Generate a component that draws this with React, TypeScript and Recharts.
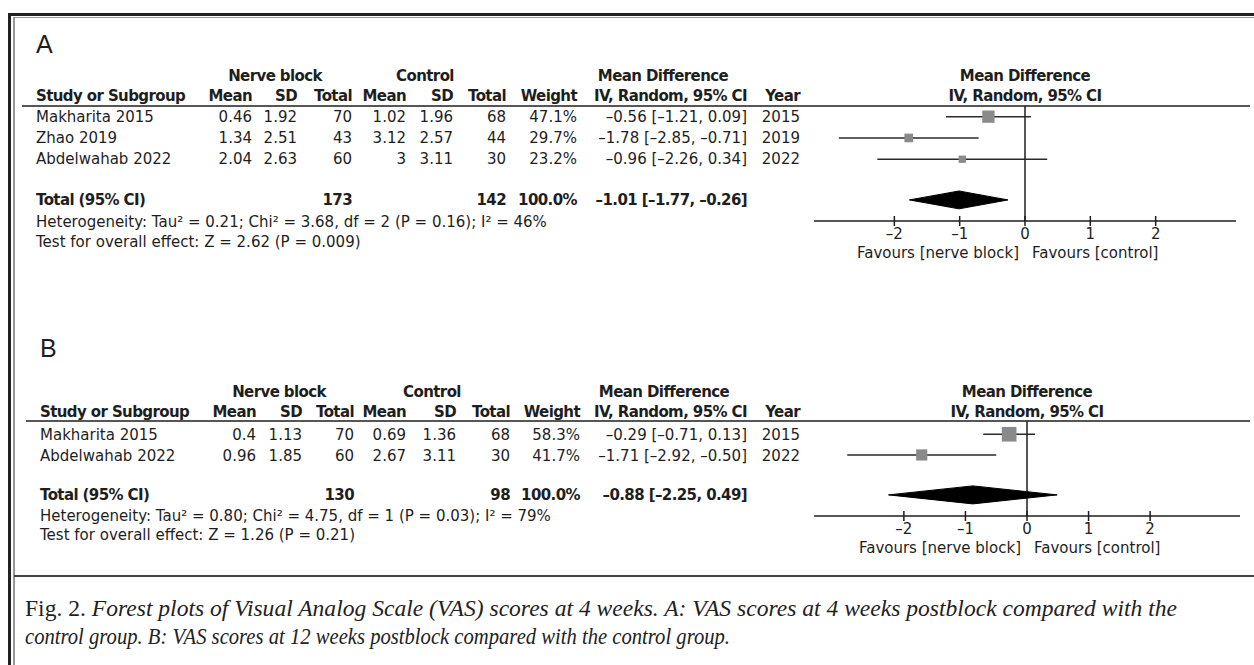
import React from "react";
import {
  ComposedChart,
  Scatter,
  XAxis,
  YAxis,
  ReferenceLine,
  ErrorBar,
} from "recharts";

// ---- Panel A: VAS at 4 weeks postblock ----
const studiesA = ["Makharita 2015", "Zhao 2019", "Abdelwahab 2022"];
const nbMeanA = [0.46, 1.34, 2.04];
const nbSdA = [1.92, 2.51, 2.63];
const nbTotalA = [70, 43, 60];
const ctMeanA = [1.02, 3.12, 3];
const ctSdA = [1.96, 2.57, 3.11];
const ctTotalA = [68, 44, 30];
const weightA = [47.1, 29.7, 23.2];
const mdA = [-0.56, -1.78, -0.96];
const loA = [-1.21, -2.85, -2.26];
const hiA = [0.09, -0.71, 0.34];
const yearA = [2015, 2019, 2022];
const totalsA = [173, 142];
const pooledA = [-1.01, -1.77, -0.26];
const hetA = "Heterogeneity: Tau² = 0.21; Chi² = 3.68, df = 2 (P = 0.16); I² = 46%";
const testA = "Test for overall effect: Z = 2.62 (P = 0.009)";

// ---- Panel B: VAS at 12 weeks postblock ----
const studiesB = ["Makharita 2015", "Abdelwahab 2022"];
const nbMeanB = [0.4, 0.96];
const nbSdB = [1.13, 1.85];
const nbTotalB = [70, 60];
const ctMeanB = [0.69, 2.67];
const ctSdB = [1.36, 3.11];
const ctTotalB = [68, 30];
const weightB = [58.3, 41.7];
const mdB = [-0.29, -1.71];
const loB = [-0.71, -2.92];
const hiB = [0.13, -0.5];
const yearB = [2015, 2022];
const totalsB = [130, 98];
const pooledB = [-0.88, -2.25, 0.49];
const hetB = "Heterogeneity: Tau² = 0.80; Chi² = 4.75, df = 1 (P = 0.03); I² = 79%";
const testB = "Test for overall effect: Z = 1.26 (P = 0.21)";

const axisTicks = [-2, -1, 0, 1, 2];

const FONT = "'DejaVu Sans', sans-serif";
const INK = "#1e1e1e";

const dash = (s: string) => s.replace(/-/g, "–");
const f2 = (n: number) => dash(n.toFixed(2));
const ciText = (m: number, l: number, h: number) => `${f2(m)} [${f2(l)}, ${f2(h)}]`;

const AxisTick = (props: any) => {
  const { x, y, payload } = props;
  return (
    <g>
      <line x1={x} x2={x} y1={y - 5} y2={y + 5} stroke={INK} strokeWidth={1.5} />
      <text x={x} y={y + 18} textAnchor="middle" fontFamily={FONT} fontSize={15} fill={INK}>
        {dash(String(payload.value))}
      </text>
    </g>
  );
};

const Square = (props: any) => {
  const { cx, cy, payload } = props;
  const side = 2.4 + 0.21 * payload.w;
  return <rect x={cx - side / 2} y={cy - side / 2} width={side} height={side} fill="#8a8a8a" />;
};

const Diamond = (props: any) => {
  const pts = (props.points || []).map((p: any) => `${p.x},${p.y}`).join(" ");
  return <polygon points={pts} fill="#000" stroke="#000" strokeWidth={1} />;
};

const Blank = () => <g />;

function Panel(p: any) {
  const c = p.cols;
  const x0 = p.chart.left + 10 + p.chart.plotW / 2;
  const studyPts = p.md.map((m: number, i: number) => ({
    x: m,
    y: i,
    err: [m - p.lo[i], p.hi[i] - m],
    w: p.weight[i],
  }));
  const [est, lo, hi] = p.pooled;
  const diamondPts = [
    { x: lo, y: p.totalRow },
    { x: est, y: p.totalRow - p.dh },
    { x: hi, y: p.totalRow },
    { x: est, y: p.totalRow + p.dh },
  ];
  return (
    <>
      <svg
        width={1254}
        height={665}
        style={{ position: "absolute", left: 0, top: 0 }}
      >
        <g fontFamily={FONT} fontSize={15} fill={INK}>
          <text x={c.study} y={p.labelY} fontFamily="'Liberation Sans', Arial, sans-serif" fontSize={25}>
            {p.label}
          </text>
          <g fontWeight="bold" letterSpacing={-0.6}>
            <text x={c.nbHead} y={p.head1} textAnchor="middle">Nerve block</text>
            <text x={c.ctHead} y={p.head1} textAnchor="middle">Control</text>
            <text x={c.mdHead} y={p.head1} textAnchor="middle">Mean Difference</text>
            <text x={x0} y={p.head1} textAnchor="middle">Mean Difference</text>
            <text x={c.study} y={p.head2}>Study or Subgroup</text>
            <text x={c.nbMean} y={p.head2} textAnchor="end">Mean</text>
            <text x={c.nbSd} y={p.head2} textAnchor="end">SD</text>
            <text x={c.nbTot} y={p.head2} textAnchor="end">Total</text>
            <text x={c.ctMean} y={p.head2} textAnchor="end">Mean</text>
            <text x={c.ctSd} y={p.head2} textAnchor="end">SD</text>
            <text x={c.ctTot} y={p.head2} textAnchor="end">Total</text>
            <text x={c.weight} y={p.head2} textAnchor="end">Weight</text>
            <text x={c.ci} y={p.head2} textAnchor="end">IV, Random, 95% CI</text>
            <text x={c.year} y={p.head2} textAnchor="end">Year</text>
            <text x={x0} y={p.head2} textAnchor="middle">IV, Random, 95% CI</text>
          </g>
          <line x1={p.ruleX} x2={1250} y1={p.ruleY} y2={p.ruleY} stroke={INK} strokeWidth={1.5} />
          {p.studies.map((s: string, i: number) => {
            const y = p.rowY[i];
            return (
              <g key={s}>
                <text x={c.study} y={y}>{s}</text>
                <text x={c.nbMean} y={y} textAnchor="end">{String(p.nbMean[i])}</text>
                <text x={c.nbSd} y={y} textAnchor="end">{String(p.nbSd[i])}</text>
                <text x={c.nbTot} y={y} textAnchor="end">{p.nbTotal[i]}</text>
                <text x={c.ctMean} y={y} textAnchor="end">{String(p.ctMean[i])}</text>
                <text x={c.ctSd} y={y} textAnchor="end">{String(p.ctSd[i])}</text>
                <text x={c.ctTot} y={y} textAnchor="end">{p.ctTotal[i]}</text>
                <text x={c.weight} y={y} textAnchor="end">{p.weight[i].toFixed(1)}%</text>
                <text x={c.ci} y={y} textAnchor="end">{ciText(p.md[i], p.lo[i], p.hi[i])}</text>
                <text x={c.year} y={y} textAnchor="end">{p.year[i]}</text>
              </g>
            );
          })}
          <g fontWeight="bold" letterSpacing={-0.6}>
            <text x={c.study} y={p.totalY}>Total (95% CI)</text>
            <text x={c.nbTot} y={p.totalY} textAnchor="end">{p.totals[0]}</text>
            <text x={c.ctTot} y={p.totalY} textAnchor="end">{p.totals[1]}</text>
            <text x={c.weight} y={p.totalY} textAnchor="end">100.0%</text>
            <text x={c.ci} y={p.totalY} textAnchor="end">{ciText(est, lo, hi)}</text>
          </g>
          <text x={c.study} y={p.hetY}>{p.het}</text>
          <text x={c.study} y={p.testY}>{p.test}</text>
          <text x={x0 - 6} y={p.favY} textAnchor="end">Favours [nerve block]</text>
          <text x={x0 + 7} y={p.favY}>Favours [control]</text>
        </g>
      </svg>
      <div style={{ position: "absolute", left: p.chart.left, top: p.chart.top }}>
        <ComposedChart
          width={p.chart.plotW + 20}
          height={p.chart.plotH + 50}
          margin={{ top: 10, right: 10, bottom: 0, left: 10 }}
        >
          <XAxis
            type="number"
            dataKey="x"
            domain={p.xDomain}
            allowDataOverflow
            ticks={axisTicks}
            interval={0}
            tickLine={false}
            tickSize={0}
            tickMargin={0}
            height={40}
            axisLine={{ stroke: INK, strokeWidth: 1.5 }}
            tick={<AxisTick />}
          />
          <YAxis type="number" dataKey="y" domain={p.yDomain} reversed hide allowDataOverflow />
          <ReferenceLine x={0} stroke={INK} strokeWidth={1.5} />
          <Scatter data={studyPts} isAnimationActive={false} shape={<Square />}>
            <ErrorBar dataKey="err" direction="x" width={0} stroke="#2a2a2a" strokeWidth={1.5} />
          </Scatter>
          <Scatter
            data={diamondPts}
            isAnimationActive={false}
            line={<Diamond />}
            lineType="joint"
            shape={<Blank />}
          />
        </ComposedChart>
      </div>
    </>
  );
}

const colsA = { study: 36, nbMean: 252, nbSd: 297, nbTot: 352, ctMean: 406, ctSd: 453, ctTot: 506, weight: 577, ci: 747, year: 800, nbHead: 275, ctHead: 425, mdHead: 663 };
const colsB = { study: 40, nbMean: 256, nbSd: 302, nbTot: 354, ctMean: 406, ctSd: 456, ctTot: 510, weight: 580, ci: 747, year: 800, nbHead: 279, ctHead: 432, mdHead: 664 };

export default function App() {
  return (
    <div style={{ position: "absolute", left: 0, top: 0, width: 1254, height: 665, overflow: "hidden", background: "#fff" }}>
      {/* frame */}
      <div style={{ position: "absolute", left: 8, top: 13, width: 1300, height: 700, borderTop: "3px solid #222", borderLeft: "3px solid #222" }} />
      <div style={{ position: "absolute", left: 13, top: 17, width: 1300, height: 700, borderTop: "1.5px solid #999", borderLeft: "2px solid #999" }} />
      <div style={{ position: "absolute", left: 14, top: 575, width: 1260, height: 2, background: "#444" }} />

      <Panel
        label="A" labelY={53} head1={81} head2={101} ruleX={22} ruleY={106}
        rowY={[122, 143.2, 164.4]} totalY={205} hetY={227} testY={247} favY={257.5}
        cols={colsA}
        studies={studiesA} nbMean={nbMeanA} nbSd={nbSdA} nbTotal={nbTotalA}
        ctMean={ctMeanA} ctSd={ctSdA} ctTotal={ctTotalA} weight={weightA}
        md={mdA} lo={loA} hi={hiA} year={yearA} totals={totalsA} pooled={pooledA}
        het={hetA} test={testA}
        chart={{ left: 804, top: 96, plotW: 422, plotH: 115 }}
        xDomain={[-3.23, 3.23]} yDomain={[-0.5, 4.9]} totalRow={3.91} dh={0.42}
      />
      <Panel
        label="B" labelY={357} head1={397} head2={417} ruleX={26} ruleY={421}
        rowY={[439.5, 460.5]} totalY={499.5} hetY={521} testY={540} favY={552.5}
        cols={colsB}
        studies={studiesB} nbMean={nbMeanB} nbSd={nbSdB} nbTotal={nbTotalB}
        ctMean={ctMeanB} ctSd={ctSdB} ctTotal={ctTotalB} weight={weightB}
        md={mdB} lo={loB} hi={hiB} year={yearB} totals={totalsB} pooled={pooledB}
        het={hetB} test={testB}
        chart={{ left: 804, top: 411, plotW: 426, plotH: 95 }}
        xDomain={[-3.46, 3.46]} yDomain={[-0.64, 3.95]} totalRow={2.93} dh={0.435}
      />

      <svg width={1254} height={665} style={{ position: "absolute", left: 0, top: 0 }}>
        <g fontFamily="'Liberation Serif', 'DejaVu Serif', serif" fontSize={23} fill="#222">
          <text x={25} y={616} textLength={1152} lengthAdjust="spacingAndGlyphs">
            <tspan>Fig. 2. </tspan>
            <tspan fontStyle="italic">
              Forest plots of Visual Analog Scale (VAS) scores at 4 weeks. A: VAS scores at 4 weeks postblock compared with the
            </tspan>
          </text>
          <text x={25} y={644} textLength={705} lengthAdjust="spacingAndGlyphs" fontStyle="italic">
            control group. B: VAS scores at 12 weeks postblock compared with the control group.
          </text>
        </g>
      </svg>
    </div>
  );
}
